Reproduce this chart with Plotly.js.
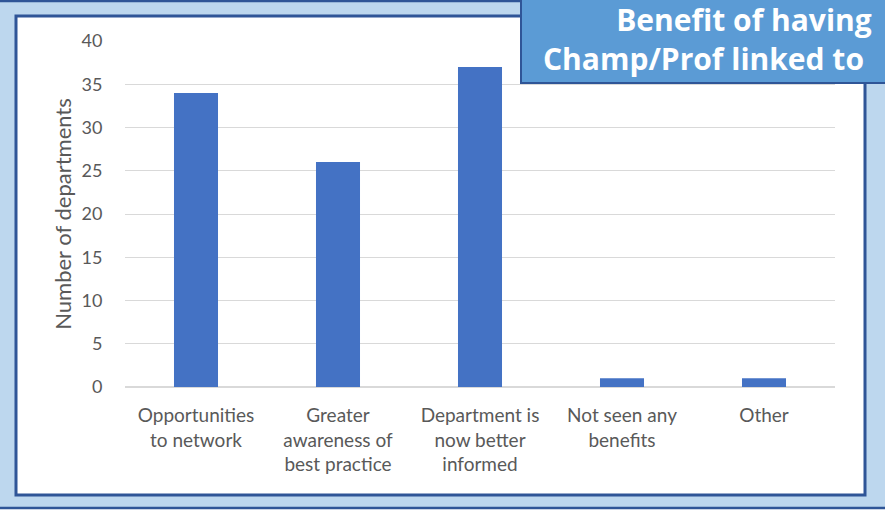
<!DOCTYPE html>
<html>
<head>
<meta charset="utf-8">
<script src="https://cdn.plot.ly/plotly-3.0.1.min.js"></script>
<style>html,body{margin:0;padding:0;background:#bdd7ee;}#chart{width:885px;height:512px;}</style>
</head>
<body>
<div id="chart"></div>
<script>
const categories = [
  "Opportunities<br>to network",
  "Greater<br>awareness of<br>best practice",
  "Department is<br>now better<br>informed",
  "Not seen any<br>benefits",
  "Other"
];
const departments = [34, 26, 37, 1, 1];
const titleLines = ["Benefit of having", "Champ/Prof linked to"];
const yTitle = "Number of departments";

// pixel -> paper helpers (plot area: x 125..835, y 41..387)
const L = 125, R = 835, T = 41, B = 387;
const px = x => (x - L) / (R - L);
const py = y => (B - y) / (B - T);

const font = "Lato, 'Open Sans', sans-serif";
const titleFont = "'Open Sans', Lato, sans-serif";

const data = [{
  type: "bar",
  x: categories,
  y: departments,
  marker: {color: "#4472c4"},
  hoverinfo: "x+y"
}];

const layout = {
  width: 885, height: 512,
  margin: {l: L, r: 885 - R, t: T, b: 512 - B},
  paper_bgcolor: "#bdd7ee",
  plot_bgcolor: "rgba(0,0,0,0)",
  bargap: 0.69,
  showlegend: false,
  font: {family: font, color: "#595959"},
  xaxis: {
    type: "category",
    tickfont: {size: 19, color: "#595959", family: font},
    ticks: "outside", ticklen: 11, tickcolor: "rgba(0,0,0,0)",
    showline: false, showgrid: false, fixedrange: true
  },
  yaxis: {
    range: [0, 40], dtick: 5,
    tickfont: {size: 18, color: "#595959", family: font},
    ticks: "outside", ticklen: 18, tickcolor: "rgba(0,0,0,0)",
    gridcolor: "#d9d9d9", gridwidth: 1,
    zeroline: true, zerolinecolor: "#d9d9d9", zerolinewidth: 1.5,
    showline: false, fixedrange: true,
    title: {text: yTitle, font: {size: 22, color: "#595959", family: font}, standoff: 3}
  },
  shapes: [
    // white chart panel
    {type: "rect", xref: "paper", yref: "paper", layer: "below",
     x0: px(16), x1: px(865), y0: py(495), y1: py(16),
     fillcolor: "#ffffff", line: {color: "#2f5597", width: 3}},
    // white strip at very bottom
    {type: "rect", xref: "paper", yref: "paper", layer: "below",
     x0: px(-5), x1: px(890), y0: py(530), y1: py(509),
     fillcolor: "#ffffff", line: {width: 0}},
    // bottom dark line
    {type: "line", xref: "paper", yref: "paper", layer: "below",
     x0: px(0), x1: px(885), y0: py(508), y1: py(508),
     line: {color: "#2f5597", width: 2.5}},
    // top dark line
    {type: "line", xref: "paper", yref: "paper", layer: "below",
     x0: px(0), x1: px(885), y0: py(1), y1: py(1),
     line: {color: "#2f5597", width: 2.5}},
    // title box
    {type: "rect", xref: "paper", yref: "paper", layer: "above",
     x0: px(521), x1: px(900), y0: py(83), y1: py(-5),
     fillcolor: "#5b9bd5", line: {color: "#2f5597", width: 2}}
  ],
  annotations: [
    {xref: "paper", yref: "paper", x: px(874), y: py(39), xanchor: "right", yanchor: "middle",
     align: "right",
     text: "<b>" + titleLines[0] + "<br>" + titleLines[1] + "&nbsp;</b>", showarrow: false,
     font: {size: 30, color: "#ffffff", family: titleFont}}
  ]
};

Plotly.newPlot("chart", data, layout, {displayModeBar: false, staticPlot: true});
</script>
</body>
</html>
